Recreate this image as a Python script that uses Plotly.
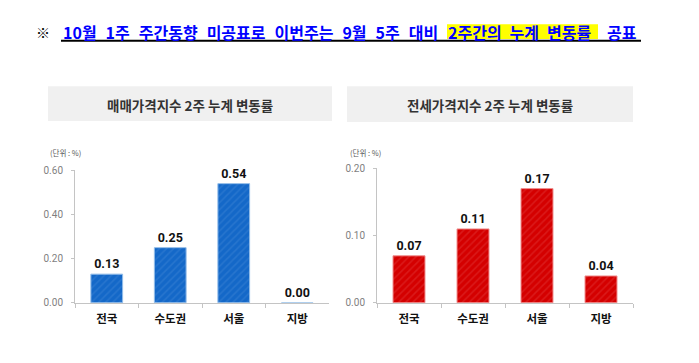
import plotly.graph_objects as go

# ---- data ----
categories = ["전국", "수도권", "서울", "지방"]
sale_values = [0.13, 0.25, 0.54, 0.00]
jeonse_values = [0.07, 0.11, 0.17, 0.04]
sale_ticks = [0.0, 0.2, 0.4, 0.6]
jeonse_ticks = [0.0, 0.1, 0.2]
sale_title = "매매가격지수 2주 누계 변동률"
jeonse_title = "전세가격지수 2주 누계 변동률"
unit_label = "(단위 : %)"
notice_mark = "※"
notice_parts = ["10월 1주 주간동향 미공표로 이번주는 9월 5주 대비", "2주간의 누계 변동률", "공표"]

W, H = 699, 363


def px(x):
    return x / W


def py(y):
    return 1 - y / H


KR = "Noto Sans CJK KR"
NARROW = "Liberation Sans Narrow, Arial Narrow, Roboto, sans-serif"

fig = go.Figure()


def bar_trace(vals, xa, ya, base, stripe, edge):
    return go.Bar(
        x=categories, y=vals, xaxis=xa, yaxis=ya,
        marker=dict(color=base, line=dict(color=edge, width=1),
                    pattern=dict(shape="/", fgcolor=stripe, size=5, solidity=0.3)),
        text=[f"{v:.2f}" for v in vals], textposition="outside",
        textfont=dict(family=NARROW, size=12.5, color="#111111", weight="bold"),
        constraintext="none", cliponaxis=False, showlegend=False,
        hoverinfo="skip",
    )


fig.add_trace(bar_trace(sale_values, "x", "y", "#1468c8", "#3a82d3", "#93bde9"))
fig.add_trace(bar_trace(jeonse_values, "x2", "y2", "#d40000", "#e03434", "#f09090"))

axis_col = "#c4c4c4"
xcommon = dict(showline=True, linecolor=axis_col, linewidth=1, ticks="outside",
               tickson="boundaries", ticklen=4, tickcolor=axis_col, showgrid=False,
               tickfont=dict(family=KR, size=11.5, color="#111111", weight="bold"),
               ticklabelstandoff=5, fixedrange=True)
ycommon = dict(showline=True, linecolor=axis_col, linewidth=1, ticks="outside",
               ticklen=3, tickcolor=axis_col, showgrid=False, zeroline=False,
               tickformat=".2f", tickfont=dict(family=NARROW, size=10, color="#7f7f7f"),
               ticklabelstandoff=6, fixedrange=True)

fig.update_layout(
    width=W, height=H, margin=dict(l=0, r=0, t=0, b=0),
    paper_bgcolor="white", plot_bgcolor="white", bargap=0.5,
    xaxis=dict(domain=[px(75), px(329)], anchor="y", **xcommon),
    yaxis=dict(domain=[py(307), py(170)], anchor="x", range=[0, 0.6],
               tickvals=sale_ticks, **ycommon),
    xaxis2=dict(domain=[px(377), px(633)], anchor="y2", **xcommon),
    yaxis2=dict(domain=[py(307), py(168)], anchor="x2", range=[0, 0.2],
                tickvals=jeonse_ticks, **ycommon),
)

shapes = [
    dict(type="rect", xref="paper", yref="paper", x0=px(48), x1=px(332), y0=py(119), y1=py(83),
         fillcolor="#f0f0f0", line=dict(width=0), layer="below"),
    dict(type="rect", xref="paper", yref="paper", x0=px(347), x1=px(633), y0=py(120), y1=py(83),
         fillcolor="#f0f0f0", line=dict(width=0), layer="below"),
    dict(type="rect", xref="paper", yref="paper", x0=px(447), x1=px(598), y0=py(34), y1=py(19),
         fillcolor="#ffff00", line=dict(width=0), layer="below"),
    dict(type="line", xref="paper", yref="paper", x0=px(61), x1=px(641), y0=py(36), y1=py(36),
         line=dict(color="#000000", width=2)),
]
fig.update_layout(shapes=shapes)

ann = []
common = dict(xref="paper", yref="paper", showarrow=False, yanchor="middle")
ann.append(dict(text=sale_title, x=px(190), y=py(102), xanchor="center",
                font=dict(family=KR, size=13.5, color="#333333", weight="bold"), **common))
ann.append(dict(text=jeonse_title, x=px(490), y=py(102), xanchor="center",
                font=dict(family=KR, size=13.5, color="#333333", weight="bold"), **common))
for ux in (48, 348):
    ann.append(dict(text=unit_label, x=px(ux), y=py(151), xanchor="left",
                    font=dict(family=KR, size=7.5, color="#555555"), **common))

blue = "#0000ff"
seps = ["\u2002\u200a", "\u2002", "\u2002"]
ann.append(dict(text=notice_mark, x=px(43), y=py(27), xanchor="center",
                font=dict(family=KR, size=14, color="#000000", weight="bold"), **common))
tx = [61, 446, 605]
for part, x0, s in zip(notice_parts, tx, seps):
    ann.append(dict(text=part.replace(" ", s), x=px(x0), y=py(27), xanchor="left",
                    font=dict(family=KR, size=16, color=blue, weight="bold"), **common))
fig.update_layout(annotations=ann)

fig.write_html("out.html", config={"displayModeBar": False},
               post_script="document.body.style.margin='0';document.body.style.overflow='hidden';")
